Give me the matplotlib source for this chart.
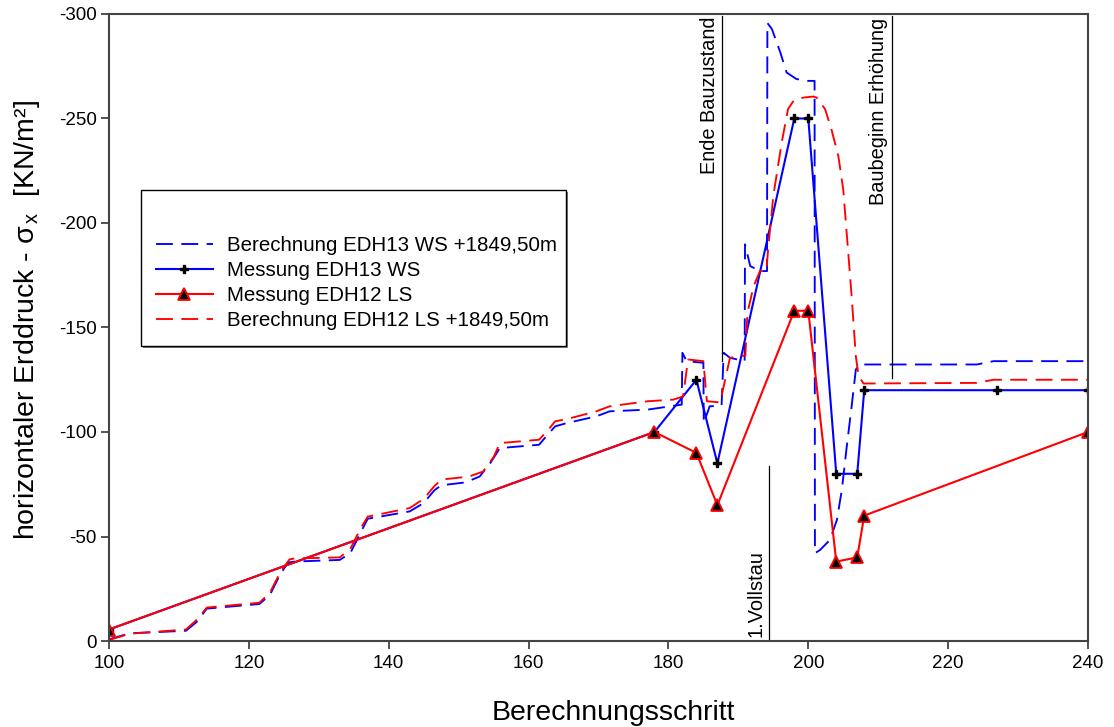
import matplotlib
matplotlib.use("Agg")
import matplotlib.pyplot as plt
from matplotlib.patches import Rectangle

plt.rcParams["font.family"] = ["Liberation Sans", "DejaVu Sans"]
plt.rcParams["axes.unicode_minus"] = False
plt.rcParams["mathtext.fontset"] = "custom"
plt.rcParams["mathtext.rm"] = "Liberation Sans"
plt.rcParams["mathtext.it"] = "Liberation Sans:italic"

# ---- data -------------------------------------------------------------
# Berechnung EDH13 WS +1849,50m
calc13_x = [100, 103, 111, 112.5, 114, 121.5, 123, 124.5, 125.6, 126.5, 133, 134.5,
            136, 137, 143, 145, 146.5, 147.5, 151, 153, 154.5, 155.9, 161.5, 162.8,
            163.8, 165.5, 169.7, 171.6, 177, 181.9, 182.0, 182.6, 185, 185.05, 185.9,
            187.6, 187.9, 188.8, 190.9, 190.95, 191.7, 193.1, 194.1, 194.15, 194.8,
            196, 196.9, 198.3, 199.8, 200.9, 200.95, 201.7, 203.1, 204.1, 204.8,
            205.5, 206.2, 206.8, 207.4, 208.8, 224.1, 226.5, 240]
calc13_y = [-0.8, -3.7, -4.9, -9, -15.5, -17.7, -22, -32, -37.5, -38, -38.8, -42,
            -52, -58.5, -62, -66, -72, -74.5, -75.9, -78.7, -85, -92.3, -93.9, -99,
            -102.7, -104.3, -107.5, -109.9, -110.7, -113.1, -137.9, -133.9, -133.1,
            -104.3, -112.3, -112.6, -137.9, -135.5, -133.9, -189.8, -179.4, -177,
            -177, -295.7, -292.8, -281.6, -272, -268.9, -268, -268, -42, -43.6,
            -48.4, -58, -72.4, -93, -112.3, -129.9, -132.3, -132.3, -132.3, -133.9,
            -133.9]

# Messung EDH13 WS
mess13_x = [100, 178, 184, 187, 198, 200, 204, 207, 208, 227, 240]
mess13_y = [-5.5, -100, -125, -85, -250, -250, -80, -80, -120, -120, -120]

# Messung EDH12 LS
mess12_x = [100, 178, 184, 187, 198, 200, 204, 207, 208, 240]
mess12_y = [-5.5, -100, -90, -65, -158, -158, -38, -40, -60, -100]

# Berechnung EDH12 LS +1849,50m
calc12_x = [100, 103, 111, 112.5, 114, 121.5, 123, 124.5, 125.8, 126.5, 133, 134.5,
            136, 137, 143, 145, 146.5, 147.5, 151.5, 153.5, 155, 155.9, 161.5, 162.8,
            163.8, 165.5, 169.7, 171.6, 177, 180.7, 182.1, 182.8, 185, 185.5, 187.4,
            187.8, 188.8, 191, 191.3, 192.2, 193.1, 194, 194.3, 195, 196.2, 197.1,
            197.9, 199.3, 200.7, 201.2, 202.4, 203.3, 204.3, 205, 205.6, 206.2,
            206.8, 207.2, 207.9, 224.1, 226.5, 240]
calc12_y = [-0.5, -3.5, -5.5, -10, -16, -18.3, -23, -33, -39, -39.5, -40, -44,
            -54, -59.5, -63.6, -68, -74, -77.2, -78.7, -81.1, -88, -94.7, -96.3,
            -101, -105.1, -106.2, -109.9, -112.3, -114.7, -115.5, -117, -134.7,
            -133.9, -114.7, -114.2, -120.3, -135.5, -136.6, -157, -170, -177, -177,
            -189, -213, -238.5, -254.5, -258.5, -260, -260.5, -260, -254.5, -244.9,
            -232, -216, -190.6, -165, -136.2, -126.7, -123.2, -123.5, -125, -125]

# Event markers: label, x position, vertical extent of the line
event_labels = ["Ende Bauzustand", "Baubeginn Erhöhung", "1.Vollstau"]
event_x = [187.7, 211.9, 194.4]
event_y0 = [-134, -126, 0]
event_y1 = [-299, -299, -83.5]

series_labels = ["Berechnung EDH13 WS +1849,50m", "Messung EDH13 WS",
                 "Messung EDH12 LS", "Berechnung EDH12 LS +1849,50m"]

x_ticks = list(range(100, 241, 20))
y_ticks = list(range(0, -301, -50))

# ---- figure -----------------------------------------------------------
W, H = 1114, 727
fig = plt.figure(figsize=(W / 100, H / 100), dpi=100)
ax = fig.add_axes([109 / W, 1 - 641 / H, (1088 - 109) / W, (641 - 14) / H])

dash = (9, 4.5)
lw = 1.35
h1, = ax.plot(calc13_x, calc13_y, color="#0000ff", lw=lw, dashes=dash)
h2, = ax.plot(mess13_x, mess13_y, color="#0000ff", lw=1.5, marker="P",
              markersize=6, mfc="black", mec="black")
h3, = ax.plot(mess12_x, mess12_y, color="#ff0000", lw=1.5, marker="^",
              markersize=8, mfc="black", mec="#ff0000", mew=1.3)
h4, = ax.plot(calc12_x, calc12_y, color="#ff0000", lw=lw, dashes=dash)

for xe, ya, yb in zip(event_x, event_y0, event_y1):
    ax.plot([xe, xe], [ya, yb], color="black", lw=0.9)

ax.text(event_x[0] - 0.45, -299, event_labels[0], rotation=90, ha="right",
        va="top", fontsize=14.4)
ax.text(event_x[1] - 0.45, -298, event_labels[1], rotation=90, ha="right",
        va="top", fontsize=14.4)
ax.text(event_x[2] - 0.45, -2, event_labels[2], rotation=90, ha="right",
        va="bottom", fontsize=14.4)

ax.set_xlim(100, 240)
ax.set_ylim(0, -300)
ax.set_xticks(x_ticks)
ax.set_yticks(y_ticks)
ax.set_xticklabels([str(v) for v in x_ticks])
ax.set_yticklabels([str(v) for v in y_ticks])
ax.tick_params(direction="out", length=6, width=1.2, labelsize=13.5,
               colors="#333333", labelcolor="black")
ax.tick_params(axis="y", pad=3)
ax.tick_params(axis="x", pad=4)
for s in ax.spines.values():
    s.set_linewidth(1.5)
    s.set_color("#444444")

ax.set_xlabel("Berechnungsschritt", fontsize=20.5, labelpad=20)
ax.xaxis.label.set_x(0.515)
ax.set_ylabel(r"horizontaler Erddruck - σ$_{\,\mathrm{x}}$  [KN/m²]",
              fontsize=20.5, labelpad=12)
ax.yaxis.label.set_y(0.512)

# legend box with shadow
x0, y0, x1, y1 = 141, 190, 566, 346
fig.patches.append(Rectangle(((x0 + 2) / W, 1 - (y1 + 2) / H),
                             (x1 - x0) / W, (y1 - y0) / H,
                             transform=fig.transFigure, facecolor="#808080",
                             edgecolor="none", zorder=4))
fig.patches.append(Rectangle((x0 / W, 1 - y1 / H), (x1 - x0) / W, (y1 - y0) / H,
                             transform=fig.transFigure, facecolor="white",
                             edgecolor="black", lw=1.0, zorder=5))

leg = fig.legend([h1, h2, h3, h4], series_labels, loc="upper left",
                 bbox_to_anchor=(156 / W, 1 - 236 / H), frameon=False,
                 fontsize=14.8, handlelength=2.75, handletextpad=0.7,
                 labelspacing=0.3, borderpad=0, borderaxespad=0)
leg.set_zorder(6)

fig.savefig("out.png", dpi=100)
